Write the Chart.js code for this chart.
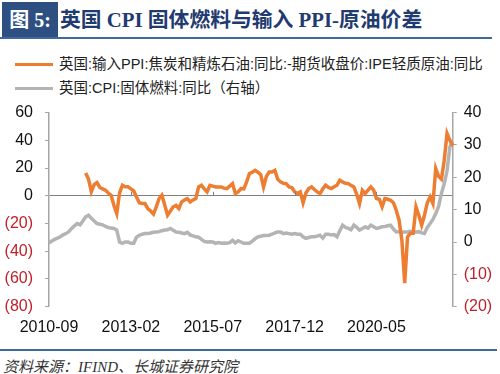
<!DOCTYPE html>
<html>
<head>
<meta charset="utf-8">
<script src="https://cdn.jsdelivr.net/npm/chart.js@4.4.1/dist/chart.umd.min.js"></script>
<style>
  html, body { margin:0; padding:0; width:500px; height:374px; background:#fff; overflow:hidden; }
  body { position:relative; font-family:"Liberation Sans", Arial, "Noto Sans CJK SC", sans-serif; }
  #tbox { position:absolute; left:2px; top:2px; width:56px; height:36px; background:#2d4f82; color:#fff;
          font-family:"Liberation Serif","Noto Sans CJK SC",serif; font-weight:bold; font-size:20px; line-height:36px; text-align:center; }
  #title { position:absolute; left:60px; top:2px; height:36px; line-height:36px; color:#1f3b70;
           font-family:"Liberation Serif","Noto Sans CJK SC",serif; font-weight:bold; font-size:20.8px; white-space:nowrap; }
  #tline { position:absolute; left:0; top:37px; width:492px; height:2px; background:#3d6a9a; }
  .leg { position:absolute; left:15px; height:18px; line-height:18px; font-size:14.5px; color:#222; white-space:nowrap;
         font-family:"Liberation Sans", Arial, "Noto Sans CJK SC", sans-serif; }
  .leg span.sw { display:inline-block; width:38px; height:3px; vertical-align:middle; margin-right:6px; position:relative; top:-1px; }
  #wrap { position:absolute; left:0; top:91px; width:500px; height:249px; }
  #bline { position:absolute; left:0; top:349px; width:497px; height:2px; background:#3d6a9a; }
  #src { position:absolute; left:3px; top:355px; font-size:15px; font-style:italic; color:#333; white-space:nowrap;
         font-family:"Liberation Serif","Noto Sans CJK SC",serif; }
</style>
</head>
<body>
<div id="tbox">图 5:</div>
<div id="title">英国 CPI 固体燃料与输入 PPI-原油价差</div>
<div id="tline"></div>
<div class="leg" style="top:55px;"><span class="sw" style="background:#ED7D31"></span>英国:输入PPI:焦炭和精炼石油:同比:-期货收盘价:IPE轻质原油:同比</div>
<div class="leg" style="top:79px;"><span class="sw" style="background:#B4B4B4"></span>英国:CPI:固体燃料:同比（右轴）</div>
<div id="wrap"><canvas id="c"></canvas></div>
<div id="bline"></div>
<div id="src">资料来源：IFIND、长城证券研究院</div>
<script>
// ---- data ----
const startYear = 2010, startMonth = 9, nMonths = 144;
const categories = [];
for (let i = 0; i < nMonths; i++) {
  const m = startMonth - 1 + i;
  const y = startYear + Math.floor(m / 12);
  const mm = (m % 12) + 1;
  categories.push(y + '-' + (mm < 10 ? '0' + mm : '' + mm));
}
const labelEvery = 29;

const spreadPPI = [
  null,null,null,null,null,null,null,null,null,null,null,null,null,
  16.5,12,3,8,9.5,6,5,4,2,0.4,-7,-12.8,2,7.6,6.5,6.5,5,3.5,-0.8,-5,-5.6,-5.6,-9.2,-11,-13.2,-8,-2,
  0.4,-6.8,-14,-11,-8,-7,-9.2,-4.4,-3,-2,-4.4,-3,-2,6.4,7.6,5,2.8,7.6,7,6.4,
  6.4,6.4,5.5,5.2,7,8.8,1.6,2.8,5.2,5,10,16,17,18.4,17,15.2,6.4,14,17.2,17.2,
  18.4,12,10,9,8.8,6.4,6,3,1.6,2.8,-5.1,2,5.2,6.4,4.5,2.8,1.6,5,7.6,6,
  5.2,6.5,7.6,11.2,10,9,8.8,7.5,6.4,1,-5.6,4,1.6,4,6.4,4,-2,-2.5,-8,-2,
  -2.5,-3.2,-5,-10.4,-17.6,-32,-63,-29.6,-27,-27,-8,-14,-21.2,-14,-5,-0.8,-5.6,19.6,14,12,
  25.6,45,40,36
];
const cpiSolidFuel = [
  -0.3,0.3,0.8,1.2,1.6,2.2,2.6,3.2,4.2,5,5.7,5.3,6.5,7.8,8.3,7.3,6.5,5.7,5.5,5.3,
  4.8,4.5,4.3,4.2,3.7,0,-0.4,0,0,-0.4,-0.4,1.5,2.1,2.4,2.6,2.6,2.8,3,3.1,3.2,
  3.5,3.7,3.8,4.2,3.6,3.1,3,2.8,2.6,3,2.2,1.9,1.6,1.5,0.8,0.2,0,0.1,0,-0.4,
  -0.2,-0.4,-0.3,-0.4,-0.2,0.5,-0.3,0.4,0,-0.4,-0.4,-0.4,0.3,1,1.6,1.8,2,2,2.1,2.4,
  2.8,3.1,3.1,2.6,2.8,2.6,2.4,2.6,2.4,2.4,1.6,1.1,1.4,1.6,1.6,1.8,2.1,1.2,2.4,2.4,
  2.2,2.3,1.6,3.5,5.2,4.5,4.2,3.8,5.2,4.5,3.7,4.2,4.7,4.3,5.2,4.7,4.2,4.4,4.7,4.8,
  5,5.2,4,3.1,3.2,3,3.1,3.1,3.3,3.1,3.1,3.2,2.8,2.6,4.5,5.7,7,8.8,11,15,
  18,22,29.4,31
];
const leftTicks = { min: -80, max: 60, step: 20 };
const rightTicks = { min: -20, max: 40, step: 10 };

// ---- helpers ----
const fmt = v => v < 0 ? '(' + Math.abs(v) + ')' : '' + v;
const tickColor = ctx => (ctx.tick && ctx.tick.value < 0) ? '#c0202a' : '#111';

const zeroTicks = {
  id: 'zeroTicks',
  afterDatasetsDraw(chart) {
    const ctx = chart.ctx, x = chart.scales.x, y = chart.scales.y;
    const y0 = y.getPixelForValue(0);
    ctx.save();
    ctx.strokeStyle = '#7f7f7f';
    ctx.lineWidth = 1;
    for (let i = labelEvery; i < categories.length; i += labelEvery) {
      const px = Math.round(x.getPixelForValue(i)) + 0.5;
      ctx.beginPath(); ctx.moveTo(px, y0); ctx.lineTo(px, y0 - 4); ctx.stroke();
    }
    ctx.restore();
  }
};

new Chart(document.getElementById('c'), {
  type: 'line',
  data: {
    labels: categories,
    datasets: [
      { label: '英国:输入PPI:焦炭和精炼石油:同比:-期货收盘价:IPE轻质原油:同比', data: spreadPPI, yAxisID: 'y',
        borderColor: '#ED7D31', borderWidth: 3.5, pointRadius: 0, tension: 0, spanGaps: false },
      { label: '英国:CPI:固体燃料:同比（右轴）', data: cpiSolidFuel, yAxisID: 'y1',
        borderColor: '#B4B4B4', borderWidth: 3.5, pointRadius: 0, tension: 0 }
    ]
  },
  options: {
    responsive: true, maintainAspectRatio: false, animation: false,
    layout: { padding: { top: 12, left: 0, right: 0, bottom: 0 } },
    plugins: { legend: { display: false }, tooltip: { enabled: false } },
    scales: {
      x: {
        grid: { display: false, drawTicks: false },
        border: { display: false },
        ticks: {
          autoSkip: false, maxRotation: 0, minRotation: 0, padding: 11,
          color: '#111', font: { family: '"Liberation Sans", Arial', size: 16 },
          callback: function(v, i) { return i % labelEvery === 0 ? categories[i] : ''; }
        },
        afterFit: s => { s.height = 33.3; }
      },
      y: {
        position: 'left', min: leftTicks.min, max: leftTicks.max,
        grid: { drawOnChartArea: true, drawTicks: true, tickLength: 4, tickColor: '#a6a6a6',
                color: c => (c.tick && c.tick.value === 0) ? '#808080' : 'rgba(0,0,0,0)', lineWidth: 1 },
        border: { display: true, color: '#a6a6a6', width: 1.5 },
        ticks: { stepSize: leftTicks.step, padding: 12, color: tickColor,
                 font: { family: '"Liberation Sans", Arial', size: 16 }, callback: v => fmt(v) },
        afterFit: s => { s.width = 49; }
      },
      y1: {
        position: 'right', min: rightTicks.min, max: rightTicks.max,
        grid: { drawOnChartArea: false, drawTicks: true, tickLength: 4, tickColor: '#a6a6a6' },
        border: { display: true, color: '#a6a6a6', width: 1.5 },
        ticks: { stepSize: rightTicks.step, padding: 7, color: tickColor,
                 font: { family: '"Liberation Sans", Arial', size: 16 }, callback: v => fmt(v) },
        afterFit: s => { s.width = 47.3; }
      }
    }
  },
  plugins: [zeroTicks]
});
</script>
</body>
</html>
